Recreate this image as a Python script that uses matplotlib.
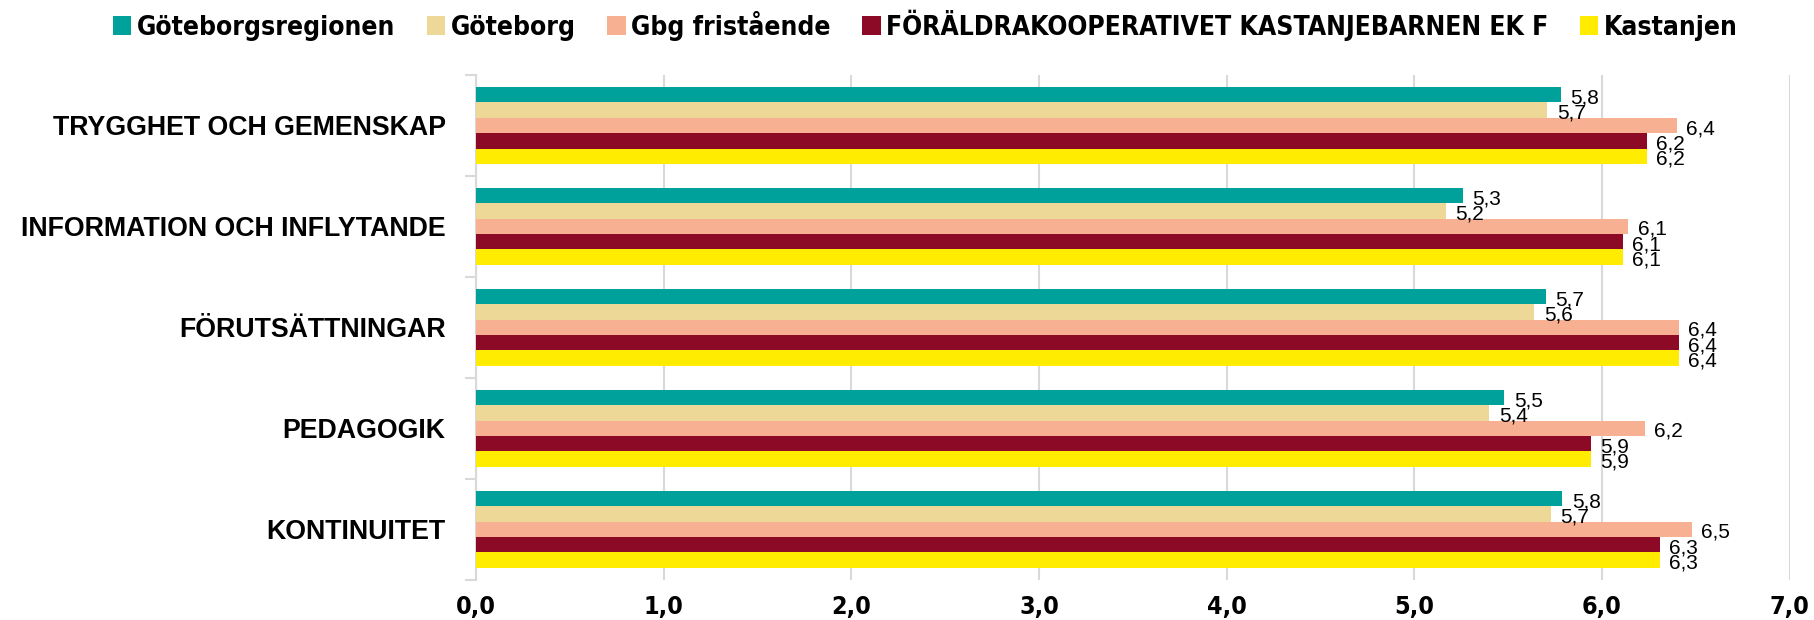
import numpy as np
import matplotlib.pyplot as plt
from matplotlib import font_manager

categories = ["TRYGGHET OCH GEMENSKAP", "INFORMATION OCH INFLYTANDE",
              "FÖRUTSÄTTNINGAR", "PEDAGOGIK", "KONTINUITET"]
series = ["Göteborgsregionen", "Göteborg", "Gbg fristående",
          "FÖRÄLDRAKOOPERATIVET KASTANJEBARNEN EK F", "Kastanjen"]
goteborgsregionen = [5.78, 5.26, 5.70, 5.48, 5.79]
goteborg = [5.71, 5.17, 5.64, 5.40, 5.73]
gbg_fristaende = [6.40, 6.14, 6.41, 6.23, 6.48]
kooperativet = [6.24, 6.11, 6.41, 5.94, 6.31]
kastanjen = [6.24, 6.11, 6.41, 5.94, 6.31]
colors = ["#00A19A", "#EDD898", "#F7B092", "#8C0A25", "#FFEC00"]
xticks = [0, 1, 2, 3, 4, 5, 6, 7]

values = [goteborgsregionen, goteborg, gbg_fristaende, kooperativet, kastanjen]

names = {f.name for f in font_manager.fontManager.ttflist}
narrow_name = "DejaVu Sans Condensed" if "DejaVu Sans Condensed" in names else "DejaVu Sans"
narrow = font_manager.FontProperties(family=narrow_name, stretch="condensed", weight="bold")

fig = plt.figure(figsize=(18.14, 6.2), dpi=100)
ax = fig.add_axes([0.2625, 0.065, 0.724, 0.814])

h = 0.152
y = np.arange(len(categories))
for i, (name, vals) in enumerate(zip(series, values)):
    pos = y - 2 * h + i * h
    ax.barh(pos, vals, height=h, color=colors[i], label=name, zorder=3)
    for p, v in zip(pos, vals):
        ax.text(v + 0.05, p + 0.03, f"{v:.1f}".replace(".", ","), va="center",
                ha="left", fontsize=15, fontfamily="Liberation Sans", zorder=4)

ax.set_xlim(0, 7)
ax.set_ylim(len(categories) - 0.5, -0.5)
ax.set_xticks(xticks)
ax.set_xticklabels([f"{t:.1f}".replace(".", ",") for t in xticks])
for lab in ax.get_xticklabels():
    lab.set_fontproperties(narrow)
    lab.set_fontsize(18)
ax.set_yticks(np.arange(len(categories) + 1) - 0.5, minor=False)
ax.set_yticklabels([])
ax.set_yticks(y, minor=True)
ax.set_yticklabels(categories, minor=True, fontsize=19.3, fontweight="bold",
                   family="Liberation Sans")
ax.tick_params(axis="y", which="minor", length=0, pad=22)
ax.tick_params(axis="y", which="major", length=8, color="#D9D9D9", width=1.5)
ax.tick_params(axis="x", length=0, pad=11)
ax.grid(axis="x", color="#D9D9D9", linewidth=1.5, zorder=0)
for s in ["top", "right", "bottom"]:
    ax.spines[s].set_visible(False)
ax.spines["left"].set_color("#D9D9D9")
ax.spines["left"].set_linewidth(1.5)

legprop = narrow.copy()
legprop.set_size(19)
fig.legend(loc="upper center", bbox_to_anchor=(0.51, 1.015), ncol=5, frameon=False,
           prop=legprop, handlelength=0.7, handleheight=0.7, handletextpad=0.2,
           columnspacing=1.2, borderaxespad=0.3)

fig.savefig("out.png", dpi=100)
